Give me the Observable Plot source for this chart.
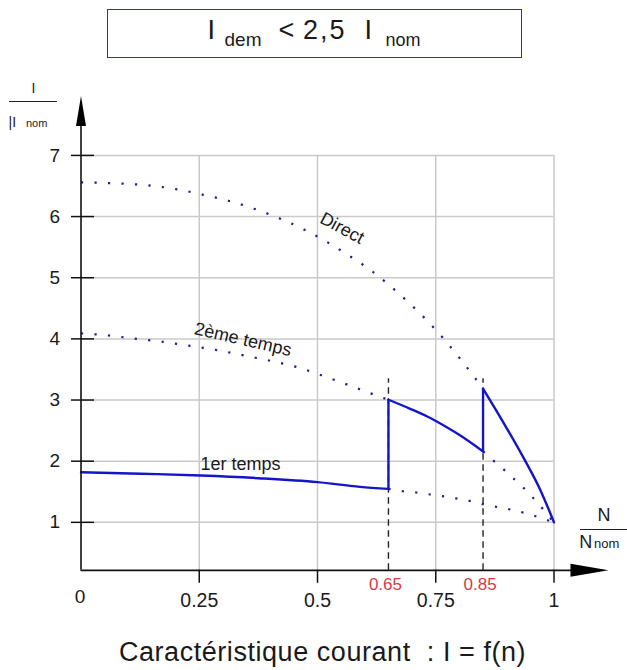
<!DOCTYPE html>
<html><head><meta charset="utf-8">
<script src="https://cdn.jsdelivr.net/npm/d3@7"></script>
<script src="https://cdn.jsdelivr.net/npm/@observablehq/plot@0.6"></script>
<style>
body{margin:0;background:#fff;font-family:"Liberation Sans",Arial,Helvetica,sans-serif;}
#wrap{position:relative;width:627px;height:670px;overflow:hidden;background:#fff;}
.t{position:absolute;white-space:pre;line-height:1;color:#1a1a1a;}
#box{position:absolute;left:107px;top:9px;width:413px;height:47px;border:1.4px solid #35357f;}
.bar{position:absolute;height:1.3px;background:#222;}
#chart{position:absolute;left:0;top:64px;}
</style></head><body>
<div id="wrap">
  <div id="box"></div>
  <div id="chart"></div>
</div>
<script>
// ---------- data ----------
const xTicks = [0.25, 0.5, 0.75, 1];
const xTickLabels = ["0.25", "0.5", "0.75", "1"];
const yTicks = [1, 2, 3, 4, 5, 6, 7];
const switchSpeeds = [0.65, 0.85];
const switchLabels = ["0.65", "0.85"];
const curveNames = ["Direct", "2ème temps", "1er temps"];

// Direct start
const directN = [0, 0.026, 0.085, 0.142, 0.2, 0.256, 0.313, 0.367, 0.42, 0.471, 0.52, 0.567, 0.613, 0.656, 0.696, 0.734, 0.768, 0.802, 0.834, 0.85, 0.894, 0.936, 0.971, 1];
const directI = [6.56, 6.555, 6.54, 6.51, 6.45, 6.36, 6.255, 6.125, 5.97, 5.79, 5.585, 5.36, 5.12, 4.85, 4.57, 4.28, 3.99, 3.67, 3.35, 3.185, 2.62, 2.05, 1.53, 1.0];
// 2eme temps
const temps2N = [0, 0.059, 0.117, 0.174, 0.231, 0.288, 0.344, 0.401, 0.456, 0.51, 0.564, 0.619, 0.65, 0.696, 0.732, 0.767, 0.802, 0.85, 0.869, 0.89, 0.909, 0.929, 0.946, 0.965, 0.982, 1];
const temps2I = [4.09, 4.055, 4.0, 3.95, 3.886, 3.815, 3.73, 3.64, 3.54, 3.40, 3.25, 3.09, 3.005, 2.857, 2.731, 2.584, 2.42, 2.16, 2.028, 1.892, 1.754, 1.618, 1.476, 1.328, 1.165, 1.0];
// 1er temps
const temps1N = [0, 0.126, 0.253, 0.375, 0.5, 0.59, 0.65, 0.681, 0.709, 0.739, 0.768, 0.797, 0.825, 0.853, 0.882, 0.911, 0.94, 0.967, 1];
const temps1I = [1.82, 1.795, 1.766, 1.722, 1.657, 1.58, 1.548, 1.509, 1.488, 1.455, 1.423, 1.385, 1.346, 1.292, 1.248, 1.205, 1.15, 1.084, 1.0];

// ---------- layout config ----------
const Y_AXIS = 0.215, Y_TOP = 7.97, Y_AXIS_END = 7.49;
const X_AXIS_END = 1.04, X_ARROW = 1.1152;
const DASH_TOP = 3.35;
const labelPos = [
  {n: 0.552, i: 5.81, r: 28},
  {n: 0.3425, i: 3.99, r: 13},
  {n: 0.337, i: 1.946, r: 0}
];
const GRID = "#c9c9c9", DOT = "#1f1f8c", SOLID = "#1515c8";

const rows = (N, I) => N.map((n, k) => ({n, i: I[k]}));
const direct = rows(directN, directI), t2 = rows(temps2N, temps2I), t1 = rows(temps1N, temps1I);
const [s1, s2] = switchSpeeds;
const seg = (arr, lo, hi, z) => arr.filter(d => d.n >= lo && d.n <= hi).map(d => ({...d, z}));
const dotted = [
  ...seg(direct, 0, s2, "d"),
  ...seg(t2, 0, s1, "t2a"),
  ...seg(t2, s2, 1, "t2b"),
  ...seg(t1, s1, 1, "t1")
];
const solid = [
  ...seg(t1, 0, s1, "t1"),
  ...seg(t2, s1, s2, "t2"),
  ...seg(direct, s2, 1, "d")
];
const at = (arr, n) => arr.find(d => d.n === n).i;
const jumps = [
  {n: s1, lo: at(t1, s1), hi: at(t2, s1)},
  {n: s2, lo: at(t2, s2), hi: at(direct, s2)}
];
const labels = curveNames.map((t, k) => ({t, ...labelPos[k]}));

const arrowUp = {draw(c) { c.moveTo(0, 0); c.lineTo(-5, 30); c.lineTo(5, 30); c.closePath(); }};
const arrowRight = {draw(c) { c.moveTo(0, 0); c.lineTo(-38, -6.5); c.lineTo(-38, 6.5); c.closePath(); }};

const H = 556;
const chart = Plot.plot({
  width: 627, height: H,
  marginLeft: 80.5, marginRight: 73.5, marginTop: 31.6, marginBottom: H - 505.85,
  x: {domain: [0, 1], axis: null},
  y: {domain: [Y_AXIS, Y_TOP], axis: null},
  style: {fontFamily: '"Liberation Sans", Arial, Helvetica, sans-serif', background: "white", overflow: "visible"},
  marks: [
    Plot.ruleY(yTicks, {y: d => d, x1: 0, x2: 1, stroke: GRID, strokeWidth: 1.5}),
    Plot.ruleX(xTicks, {x: d => d, y1: Y_AXIS, y2: 7, stroke: GRID, strokeWidth: 1.5}),
    Plot.ruleX(switchSpeeds, {x: d => d, y1: Y_AXIS, y2: DASH_TOP, stroke: "#222", strokeWidth: 1.4, strokeDasharray: "6.5,4.5"}),
    Plot.line(dotted, {x: "n", y: "i", z: "z", stroke: DOT, strokeWidth: 2.2, strokeDasharray: "2.2,11.3", strokeLinecap: "butt", curve: "monotone-x"}),
    Plot.line(solid, {x: "n", y: "i", z: "z", stroke: SOLID, strokeWidth: 2.4, curve: "monotone-x"}),
    Plot.ruleX(jumps, {x: "n", y1: "lo", y2: "hi", stroke: SOLID, strokeWidth: 2.4}),
    // axes
    Plot.ruleX([0], {x: d => d, y1: Y_AXIS, y2: Y_AXIS_END, stroke: "#111", strokeWidth: 1.6}),
    Plot.ruleY([Y_AXIS], {y: d => d, x1: 0, x2: X_AXIS_END, stroke: "#111", strokeWidth: 1.6}),
    Plot.dot([0], {x: d => d, y: () => Y_TOP, symbol: arrowUp, fill: "#000", stroke: null, r: 5}),
    Plot.dot([X_ARROW], {x: d => d, y: () => Y_AXIS, symbol: arrowRight, fill: "#000", stroke: null, r: 5}),
    Plot.ruleY(yTicks, {y: d => d, x1: 0, x2: 0, insetLeft: -9.5, insetRight: -13.5, stroke: "#111", strokeWidth: 1.5}),
    Plot.ruleX(xTicks, {x: d => d, y1: Y_AXIS, y2: Y_AXIS, insetBottom: -13, stroke: "#111", strokeWidth: 1.5}),
    // tick labels
    Plot.text(yTicks, {x: () => 0, y: d => d, text: d => String(d), dx: -21, textAnchor: "end", fontSize: 19, fill: "#1a1a1a"}),
    Plot.text(["0"], {x: () => 0, y: () => Y_AXIS, text: d => d, dy: 27, dx: -1, fontSize: 19, fill: "#1a1a1a"}),
    Plot.text(xTicks, {x: d => d, y: () => Y_AXIS, text: (d, k) => xTickLabels[k], dy: 30, fontSize: 19.5, fill: "#1a1a1a"}),
    Plot.text(switchSpeeds, {x: d => d, y: () => Y_AXIS, text: (d, k) => switchLabels[k], dy: 14.5, dx: -3, fontSize: 17, fill: "#d63a45"}),
    // curve labels
    Plot.text(labels, {x: "n", y: "i", text: "t", rotate: "r", fontSize: 18, fill: "#1a1a1a"})
  ]
});
document.getElementById("chart").appendChild(chart);

// ---------- HTML text (title, axis titles, caption) ----------
const wrap = document.getElementById("wrap");
function put(txt, x, baseline, fs, opts = {}) {
  const d = document.createElement("div");
  d.className = "t";
  d.textContent = txt;
  d.style.fontSize = fs + "px";
  d.style.left = x + "px";
  d.style.top = (baseline - 0.8465 * fs) + "px";
  if (opts.center) d.style.transform = "translateX(-50%)";
  if (opts.ls) d.style.letterSpacing = opts.ls + "px";
  if (opts.color) d.style.color = opts.color;
  wrap.appendChild(d);
}
function bar(x, y, w) {
  const d = document.createElement("div");
  d.className = "bar";
  d.style.left = x + "px"; d.style.top = y + "px"; d.style.width = w + "px";
  wrap.appendChild(d);
}
// title
put("I", 207.5, 40, 27);
put("dem", 224.5, 46, 19);
put("<", 278.5, 40, 27);
put("2,5", 303, 40, 27, {ls: 2});
put("I", 364.5, 40, 27);
put("nom", 385.5, 46.5, 18);
// y axis title
put("I", 33.5, 93, 14, {center: true});
bar(9, 101, 48);
put("|I", 8.5, 127, 14);
put("nom", 26, 127, 11);
// x axis title
put("N", 604, 521, 18, {center: true});
bar(580, 528.7, 47);
put("N", 579.3, 548.3, 18);
put("nom", 594, 548.3, 13);
// caption
put("Caractéristique courant  : I = f(n)", 322.5, 662, 27, {center: true, ls: 0.55});
</script>
</body></html>
